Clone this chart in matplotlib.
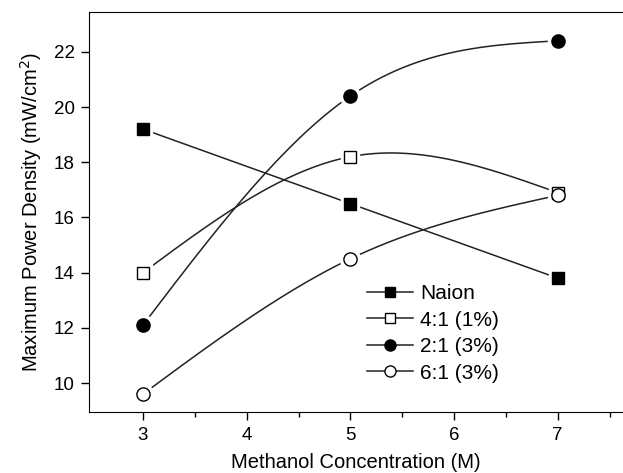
import numpy as np
import matplotlib.pyplot as plt
from matplotlib.lines import Line2D

plt.rcParams['font.family'] = ['Liberation Sans', 'DejaVu Sans']

# === Data ===
conc = [3, 5, 7]
naion = [19.2, 16.5, 13.8]
r41 = [14.0, 18.2, 16.9]
r21 = [12.1, 20.4, 22.4]
r61 = [9.6, 14.5, 16.8]

labels = ["Naion", "4:1 (1%)", "2:1 (3%)", "6:1 (3%)"]
series = [naion, r41, r21, r61]
markers = ["s", "s", "o", "o"]
faces = ["black", "white", "black", "white"]
msizes = [8.5, 8.5, 9.5, 9.5]
smooth = [False, True, True, True]


def natural_spline(x, y, n=200):
    # natural cubic spline through the points
    x = np.asarray(x, float)
    y = np.asarray(y, float)
    k = len(x)
    h = np.diff(x)
    A = np.zeros((k, k))
    b = np.zeros(k)
    A[0, 0] = A[-1, -1] = 1
    for i in range(1, k - 1):
        A[i, i - 1] = h[i - 1]
        A[i, i] = 2 * (h[i - 1] + h[i])
        A[i, i + 1] = h[i]
        b[i] = 6 * ((y[i + 1] - y[i]) / h[i] - (y[i] - y[i - 1]) / h[i - 1])
    M = np.linalg.solve(A, b)
    xs = np.linspace(x[0], x[-1], n)
    idx = np.clip(np.searchsorted(x, xs) - 1, 0, k - 2)
    x0, x1 = x[idx], x[idx + 1]
    hh = x1 - x0
    ys = (M[idx] * (x1 - xs) ** 3 / (6 * hh) + M[idx + 1] * (xs - x0) ** 3 / (6 * hh)
          + (y[idx] / hh - M[idx] * hh / 6) * (x1 - xs)
          + (y[idx + 1] / hh - M[idx + 1] * hh / 6) * (xs - x0))
    return xs, ys


fig = plt.figure(figsize=(6.23, 4.73), dpi=100)
ax = fig.add_axes([0.143, 0.129, 0.857, 0.846])

for y, m, fc, ms, sm in zip(series, markers, faces, msizes, smooth):
    if sm:
        xs, ys = natural_spline(conc, y)
        ax.plot(xs, ys, color="#222222", lw=1.1, zorder=2)
    else:
        ax.plot(conc, y, color="#222222", lw=1.1, zorder=2)
    # white halo so the lines stop short of the markers
    ax.plot(conc, y, ls="none", marker=m, ms=ms + 5, mfc="white", mec="white", zorder=3)
    ax.plot(conc, y, ls="none", marker=m, ms=ms, mfc=fc, mec="black", mew=1.0, zorder=4)

ax.set_xlim(2.48, 7.63)
ax.set_ylim(8.95, 23.45)
ax.set_xticks([3, 4, 5, 6, 7])
ax.set_xticks(np.arange(3.5, 7.6, 1), minor=True)
ax.set_yticks([10, 12, 14, 16, 18, 20, 22])
ax.tick_params(direction="out", labelsize=13.5, length=5.5, width=1, pad=5)
ax.tick_params(which="minor", direction="out", length=3.5, width=1)
ax.spines["right"].set_visible(False)

ax.set_xlabel("Methanol Concentration (M)", fontsize=14.5, labelpad=7)
ax.set_ylabel("Maximum Power Density (mW/cm$^2$)", fontsize=14.5, labelpad=7)

handles = [Line2D([], [], color="#222222", lw=1.1, marker=m, ms=ms - 1.5, mfc=fc, mec="black")
           for m, fc, ms in zip(markers, faces, msizes)]
ax.legend(handles, labels, loc="upper left", bbox_to_anchor=(0.505, 0.34), frameon=False,
          fontsize=15, handlelength=2.2, handletextpad=0.35, labelspacing=0.36, borderaxespad=0)

fig.savefig("out.png", dpi=100)
